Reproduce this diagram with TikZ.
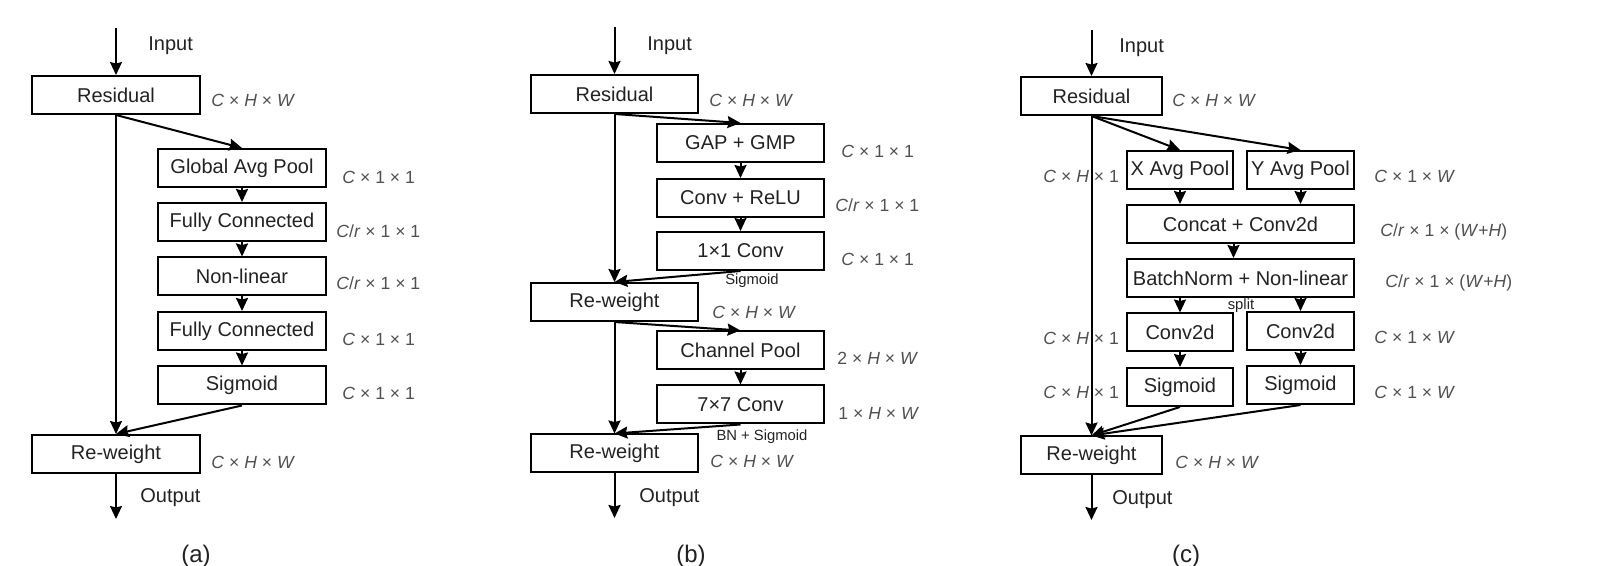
\documentclass[tikz,border=0pt]{standalone}
\usepackage{fontspec}
\setmainfont{Liberation Sans}
\usetikzlibrary{arrows.meta}
\definecolor{txt}{HTML}{222222}
\definecolor{lbl}{HTML}{505050}
\begin{document}
\begin{tikzpicture}[x=0.5pt,y=-0.5pt,
  box/.style={draw, line width=1pt, inner sep=0pt, minimum height=19pt, minimum width=#1,
    font=\fontsize{10}{12}\selectfont, text=txt},
  box/.default=84pt,
  arr/.style={line width=1pt, -{Stealth[length=6.5pt,width=6pt,inset=0.8pt]}},
  plain/.style={font=\fontsize{10}{12}\selectfont, text=txt, inner sep=0pt},
  lab/.style={font=\fontsize{8.8}{10}\selectfont, text=lbl, inner sep=0pt, anchor=west},
  small/.style={font=\fontsize{7.4}{9}\selectfont, text=txt, inner sep=0pt},
  captxt/.style={font=\fontsize{12}{14}\selectfont, text=txt, inner sep=0pt}
]
\useasboundingbox (0,0) rectangle (1614,566);

% ---------------- (a) ----------------
\node[box] (aRes) at (116,95) {Residual};
\node[box] (aGap) at (242,168) {Global Avg Pool};
\node[box] (aFc1) at (242,222) {Fully Connected};
\node[box] (aNl)  at (242,276.5) {Non-linear};
\node[box] (aFc2) at (242,331) {Fully Connected};
\node[box] (aSig) at (242,385.5) {Sigmoid};
\node[box] (aRw)  at (116,454) {Re-weight};
\coordinate (aIn) at (116,28);
\coordinate (aOut) at (116,519);
\node[plain,anchor=west] (aInT) at (148,46) {Input};
\node[plain,anchor=west] (aOutT) at (140,498) {Output};
\node[lab] (aL1) at (211,100) {\textit{C} × \textit{H} × \textit{W}};
\node[lab] (aL2) at (342,177) {\textit{C} × 1 × 1};
\node[lab] (aL3) at (336,231) {\textit{C}/\textit{r} × 1 × 1};
\node[lab] (aL4) at (336,283) {\textit{C}/\textit{r} × 1 × 1};
\node[lab] (aL5) at (342,339) {\textit{C} × 1 × 1};
\node[lab] (aL6) at (342,393) {\textit{C} × 1 × 1};
\node[lab] (aL7) at (211,462) {\textit{C} × \textit{H} × \textit{W}};
\node[captxt] (aCap) at (196,556) {(a)};
\draw[arr] (aIn) -- (aRes.north);
\draw[arr] (aRes.south) -- (aGap.north);
\draw[arr] (aGap.south) -- (aFc1.north);
\draw[arr] (aFc1.south) -- (aNl.north);
\draw[arr] (aNl.south) -- (aFc2.north);
\draw[arr] (aFc2.south) -- (aSig.north);
\draw[arr] (aSig.south) -- (aRw.north);
\draw[arr] (aRes.south) -- (aRw.north);
\draw[arr] (aRw.south) -- (aOut);

% ---------------- (b) ----------------
\node[box=83.5pt] (bRes) at (614.5,94) {Residual};
\node[box=83.5pt] (bGap) at (740.5,143) {GAP + GMP};
\node[box=83.5pt] (bCr)  at (740.5,198) {Conv + ReLU};
\node[box=83.5pt] (bC1)  at (740.5,251) {1×1 Conv};
\node[box=83.5pt] (bRw1) at (614.5,302) {Re-weight};
\node[box=83.5pt] (bCp)  at (740.5,350.5) {Channel Pool};
\node[box=83.5pt] (bC7)  at (740.5,404.5) {7×7 Conv};
\node[box=83.5pt] (bRw2) at (614.5,453.5) {Re-weight};
\coordinate (bIn) at (614.5,27);
\coordinate (bOut) at (614.5,518);
\node[plain,anchor=west] (bInT) at (647,46) {Input};
\node[plain,anchor=west] (bOutT) at (639,498) {Output};
\node[lab] (bL1) at (709,100) {\textit{C} × \textit{H} × \textit{W}};
\node[lab] (bL2) at (841,151) {\textit{C} × 1 × 1};
\node[lab] (bL3) at (835,205) {\textit{C}/\textit{r} × 1 × 1};
\node[lab] (bL4) at (841,259) {\textit{C} × 1 × 1};
\node[lab] (bL5) at (712,312) {\textit{C} × \textit{H} × \textit{W}};
\node[lab] (bL6) at (837,358) {2 × \textit{H} × \textit{W}};
\node[lab] (bL7) at (838,413) {1 × \textit{H} × \textit{W}};
\node[lab] (bL8) at (710,461) {\textit{C} × \textit{H} × \textit{W}};
\node[small] (bS1) at (752,281) {Sigmoid};
\node[small] (bS2) at (762,437) {BN + Sigmoid};
\node[captxt] (bCap) at (691,556) {(b)};
\draw[arr] (bIn) -- (bRes.north);
\draw[arr] (bRes.south) -- (bGap.north);
\draw[arr] (bGap.south) -- (bCr.north);
\draw[arr] (bCr.south) -- (bC1.north);
\draw[arr] (bC1.south) -- (bRw1.north);
\draw[arr] (bRes.south) -- (bRw1.north);
\draw[arr] (bRw1.south) -- (bCp.north);
\draw[arr] (bCp.south) -- (bC7.north);
\draw[arr] (bC7.south) -- (bRw2.north);
\draw[arr] (bRw1.south) -- (bRw2.north);
\draw[arr] (bRw2.south) -- (bOut);

% ---------------- (c) ----------------
\node[lab] (cL2) at (1043,176) {\textit{C} × \textit{H} × 1};
\node[lab] (cL6) at (1043,338) {\textit{C} × \textit{H} × 1};
\node[lab] (cL8) at (1043,392) {\textit{C} × \textit{H} × 1};
\node[box=70.5pt] (cRes) at (1091.5,96) {Residual};
\node[box=53pt] (cXp) at (1180,170) {X Avg Pool};
\node[box=53.5pt] (cYp) at (1300.5,170) {Y Avg Pool};
\node[box=113.5pt] (cCc) at (1240.5,224) {Concat + Conv2d};
\node[box=113.5pt] (cBn) at (1240.5,278) {BatchNorm + Non-linear};
\node[box=53pt] (cCvL) at (1180,332.5) {Conv2d};
\node[box=53.5pt] (cCvR) at (1300.5,331) {Conv2d};
\node[box=53pt] (cSgL) at (1180,387) {Sigmoid};
\node[box=53.5pt] (cSgR) at (1300.5,385) {Sigmoid};
\node[box=70.5pt] (cRw) at (1091.5,455.5) {Re-weight};
\coordinate (cIn) at (1091.5,30);
\coordinate (cOut) at (1091.5,520);
\node[plain,anchor=west] (cInT) at (1119,48) {Input};
\node[plain,anchor=west] (cOutT) at (1112,500) {Output};
\node[lab] (cL1) at (1172,100) {\textit{C} × \textit{H} × \textit{W}};
\node[lab] (cL3) at (1374,176) {\textit{C} × 1 × \textit{W}};
\node[lab] (cL4) at (1380,232) {\textit{C}/\textit{r} × 1 × (\textit{W}+\textit{H})};
\node[lab] (cL5) at (1385,283) {\textit{C}/\textit{r} × 1 × (\textit{W}+\textit{H})};
\node[lab] (cL7) at (1374,337) {\textit{C} × 1 × \textit{W}};
\node[lab] (cL9) at (1374,392) {\textit{C} × 1 × \textit{W}};
\node[lab] (cL10) at (1175,462) {\textit{C} × \textit{H} × \textit{W}};
\node[small] (cSp) at (1241,306) {split};
\node[captxt] (cCap) at (1186,556) {(c)};
\draw[arr] (cIn) -- (cRes.north);
\draw[arr] (cRes.south) -- (cXp.north);
\draw[arr] (cRes.south) -- (cYp.north);
\draw[arr] (cXp.south) -- (cXp.south |- cCc.north);
\draw[arr] (cYp.south) -- (cYp.south |- cCc.north);
\draw[arr] ([xshift=-3.5pt]cCc.south) -- ([xshift=-3.5pt]cBn.north);
\draw[arr] (cCvL.north |- cBn.south) -- (cCvL.north);
\draw[arr] (cCvR.north |- cBn.south) -- (cCvR.north);
\draw[arr] (cCvL.south) -- (cSgL.north);
\draw[arr] (cCvR.south) -- (cSgR.north);
\draw[arr] (cSgL.south) -- (cRw.north);
\draw[arr] (cSgR.south) -- (cRw.north);
\draw[arr] (cRes.south) -- (cRw.north);
\draw[arr] (cRw.south) -- (cOut);
\end{tikzpicture}
\end{document}
